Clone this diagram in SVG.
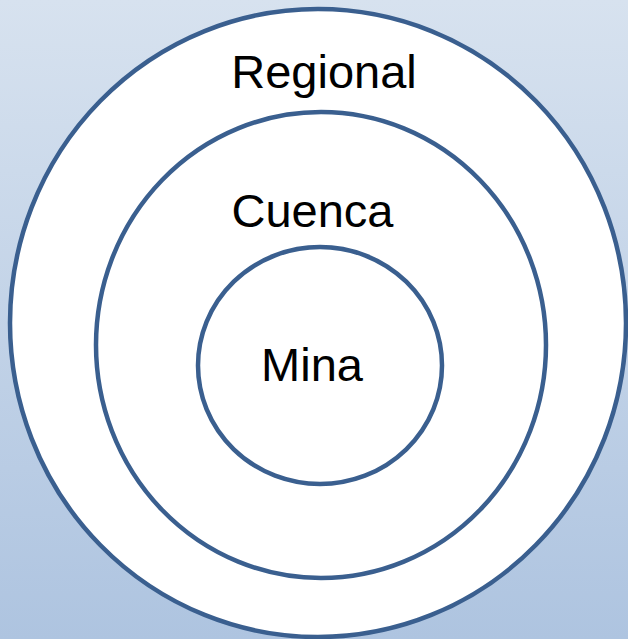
<svg xmlns="http://www.w3.org/2000/svg" width="628" height="639" viewBox="0 0 628 639">
<defs>
<linearGradient id="bg" x1="0" y1="0" x2="0" y2="1">
<stop offset="0" stop-color="#D7E2EF"/>
<stop offset="1" stop-color="#AEC4E0"/>
</linearGradient>
</defs>
<style>
.ring{fill:#FFFFFF;stroke:#3A5F8F;stroke-width:4.5}
.lbl{font-family:"Liberation Sans",Arial,sans-serif;font-size:47px;fill:#000000;text-anchor:middle}
</style>
<rect x="0" y="0" width="628" height="639" fill="url(#bg)"/>
<g id="regional">
<ellipse class="ring" cx="318" cy="323" rx="308" ry="314"/>
<text class="lbl" x="324" y="88">Regional</text>
</g>
<g id="cuenca">
<ellipse class="ring" cx="321" cy="345" rx="225" ry="233"/>
<text class="lbl" x="312.5" y="227">Cuenca</text>
</g>
<g id="mina">
<ellipse class="ring" cx="320" cy="365.5" rx="122" ry="118.5"/>
<text class="lbl" x="312" y="381">Mina</text>
</g>
<g id="connectors"/>
</svg>
